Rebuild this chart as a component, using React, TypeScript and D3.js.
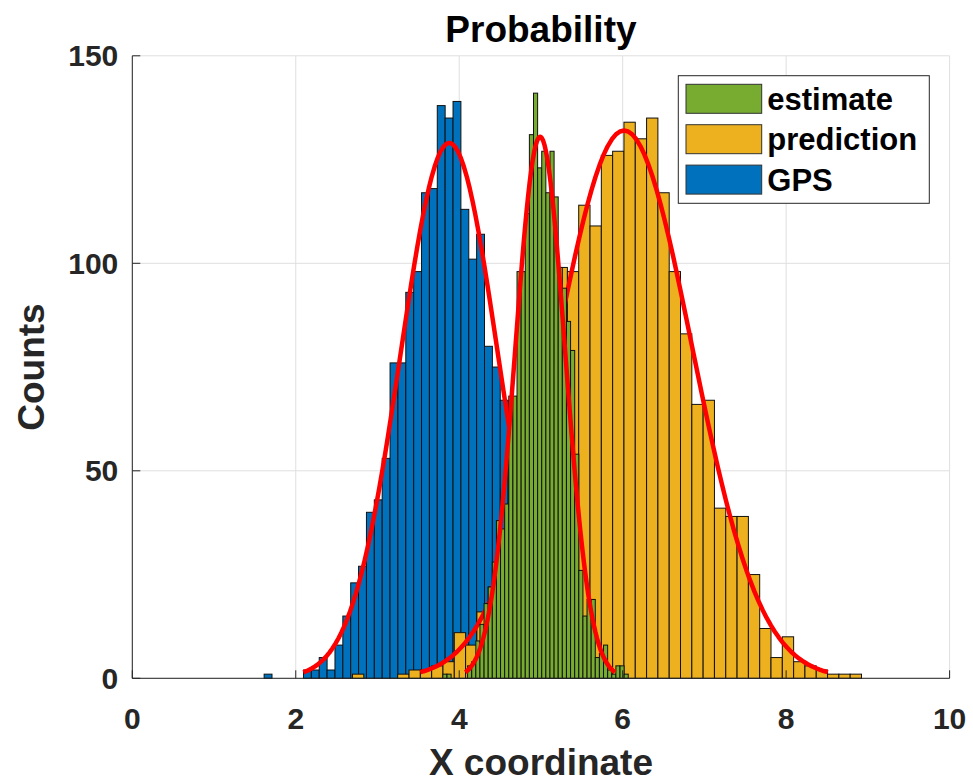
import React, { useRef, useEffect } from 'react';
import * as d3 from 'd3';

// histogram counts, one value per bin (45 bins each)
const gpsCounts = [1, 0, 0, 0, 0, 2, 2, 5, 2, 8, 15, 23, 27, 40, 43, 53, 76, 76, 93, 98, 117, 118, 138, 135, 139, 113, 101, 107, 80, 75, 67, 55, 45, 36, 26, 19, 13, 8, 5, 3, 2, 1, 1, 0, 1];
const predictionCounts = [1, 0, 0, 0, 1, 2, 2, 3, 4, 11, 8, 16, 22, 26, 34, 46, 58, 72, 99, 98, 114, 109, 126, 127, 134, 130, 135, 117, 98, 83, 66, 67, 41, 39, 39, 25, 12, 5, 10, 4, 3, 2, 1, 1, 1];
const estimateCounts = [1, 1, 0, 0, 0, 0, 3, 4, 9, 13, 18, 22, 28, 38, 36, 42, 68, 68, 98, 98, 112, 131, 141, 123, 127, 117, 127, 116, 99, 94, 86, 79, 54, 26, 15, 19, 19, 5, 6, 8, 2, 1, 3, 3, 1];

// first bin edge and bin width of each histogram
const binStart = { gps: 1.613, prediction: 2.694, estimate: 3.8 };
const binWidth = { gps: 0.0963, prediction: 0.1384, estimate: 0.0504 };

// fitted normal curves
const fitMean = { gps: 3.878, prediction: 6.017, estimate: 4.99 };
const fitSigma = { gps: 0.595, prediction: 0.831, estimate: 0.305 };
const fitPeak = { gps: 129, prediction: 132, estimate: 130.5 };

const xTicks = [0, 2, 4, 6, 8, 10];
const yTicks = [0, 50, 100, 150];
const legendLabels = ['estimate', 'prediction', 'GPS'];

const colors: Record<string, string> = {
  gps: '#0072BD',
  prediction: '#EDB120',
  estimate: '#77AC30',
};

const FONT = '"Liberation Sans", Arial, Helvetica, sans-serif';

const App: React.FC = () => {
  const svgRef = useRef<SVGSVGElement>(null);

  useEffect(() => {
    if (!svgRef.current) return;
    const svg = d3.select(svgRef.current);
    svg.selectAll('*').remove();

    const left = 132.3, right = 949.6, top = 55.8, bottom = 678.3;
    const x = d3.scaleLinear().domain([0, 10]).range([left, right]);
    const y = d3.scaleLinear().domain([0, 150]).range([bottom, top]);

    svg.append('rect').attr('width', 973).attr('height', 782).attr('fill', '#fff');

    // grid
    const grid = svg.append('g');
    xTicks.forEach(t => {
      grid.append('line')
        .attr('x1', x(t)).attr('x2', x(t)).attr('y1', top).attr('y2', bottom)
        .attr('stroke', '#dfdfdf').attr('stroke-width', 1);
    });
    yTicks.forEach(t => {
      grid.append('line')
        .attr('x1', left).attr('x2', right).attr('y1', y(t)).attr('y2', y(t))
        .attr('stroke', '#dfdfdf').attr('stroke-width', 1);
    });

    const series: { key: 'gps' | 'prediction' | 'estimate'; counts: number[] }[] = [
      { key: 'gps', counts: gpsCounts },
      { key: 'prediction', counts: predictionCounts },
      { key: 'estimate', counts: estimateCounts },
    ];

    const line = d3.line<number[]>()
      .x(d => x(d[0]))
      .y(d => y(d[1]));

    // each histogram is followed by its fit, so later bars cover earlier curves
    series.forEach(s => {
      const w = binWidth[s.key];
      const x0 = binStart[s.key];
      const g = svg.append('g');
      s.counts.forEach((c, i) => {
        if (c <= 0) return;
        g.append('rect')
          .attr('x', x(x0 + i * w))
          .attr('width', x(x0 + (i + 1) * w) - x(x0 + i * w))
          .attr('y', y(c))
          .attr('height', y(0) - y(c))
          .attr('fill', colors[s.key])
          .attr('stroke', '#111')
          .attr('stroke-width', 1);
      });

      // fitted normal over mean +/- 3 sigma
      const mu = fitMean[s.key], sd = fitSigma[s.key], pk = fitPeak[s.key];
      const pts = d3.range(0, 101).map(i => {
        const xv = mu - 3 * sd + (6 * sd * i) / 100;
        return [xv, pk * Math.exp(-((xv - mu) ** 2) / (2 * sd * sd))];
      });
      svg.append('path')
        .attr('d', line(pts))
        .attr('fill', 'none')
        .attr('stroke', '#ff0000')
        .attr('stroke-width', 4.5)
        .attr('stroke-linejoin', 'round');
    });

    // axes (box off: only left and bottom)
    const ax = svg.append('g').attr('stroke', '#262626').attr('stroke-width', 1);
    ax.append('line').attr('x1', left).attr('x2', right).attr('y1', bottom).attr('y2', bottom);
    ax.append('line').attr('x1', left).attr('x2', left).attr('y1', top).attr('y2', bottom);
    xTicks.forEach(t => {
      ax.append('line').attr('x1', x(t)).attr('x2', x(t)).attr('y1', bottom).attr('y2', bottom - 8);
    });
    yTicks.forEach(t => {
      ax.append('line').attr('x1', left).attr('x2', left + 8).attr('y1', y(t)).attr('y2', y(t));
    });

    const txt = svg.append('g')
      .attr('font-family', FONT)
      .attr('font-weight', 'bold')
      .attr('fill', '#262626');

    xTicks.forEach(t => {
      txt.append('text')
        .attr('x', x(t)).attr('y', 729)
        .attr('text-anchor', 'middle')
        .attr('font-size', 30)
        .text(t);
    });
    yTicks.forEach(t => {
      txt.append('text')
        .attr('x', left - 14).attr('y', y(t) + 10.5)
        .attr('text-anchor', 'end')
        .attr('font-size', 30)
        .text(t);
    });

    txt.append('text')
      .attr('x', (left + right) / 2).attr('y', 42)
      .attr('text-anchor', 'middle')
      .attr('font-size', 37)
      .attr('fill', '#000')
      .text('Probability');

    txt.append('text')
      .attr('x', (left + right) / 2).attr('y', 775)
      .attr('text-anchor', 'middle')
      .attr('font-size', 37)
      .text('X coordinate');

    txt.append('text')
      .attr('transform', `translate(44,${(top + bottom) / 2}) rotate(-90)`)
      .attr('text-anchor', 'middle')
      .attr('font-size', 37)
      .text('Counts');

    // legend
    const lg = svg.append('g');
    lg.append('rect')
      .attr('x', 678.3).attr('y', 75.7).attr('width', 251).attr('height', 127.6)
      .attr('fill', '#fff').attr('stroke', '#262626').attr('stroke-width', 1);
    const legendKeys = ['estimate', 'prediction', 'gps'];
    legendLabels.forEach((lab, i) => {
      const ry = 84.3 + i * 40.4;
      lg.append('rect')
        .attr('x', 686).attr('y', ry).attr('width', 75.7).attr('height', 29)
        .attr('fill', colors[legendKeys[i]])
        .attr('stroke', '#333').attr('stroke-width', 1);
      lg.append('text')
        .attr('x', 767.3).attr('y', ry + 25.5)
        .attr('font-family', FONT).attr('font-weight', 'bold')
        .attr('font-size', 31).attr('fill', '#000')
        .text(lab);
    });
  }, []);

  return (
    <div style={{ position: 'absolute', left: 0, top: 0 }}>
      <svg ref={svgRef} width={973} height={782} style={{ display: 'block' }} />
    </div>
  );
};

export default App;
